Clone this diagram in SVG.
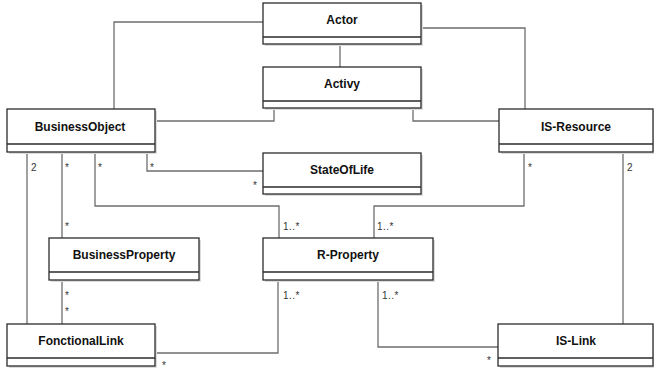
<svg xmlns="http://www.w3.org/2000/svg" width="654" height="370" viewBox="0 0 654 370">
<style>
.bg{fill:#ffffff}
.sh{fill:#dcdcdc}
.box{fill:#ffffff;stroke:#2b2b2b;stroke-width:1.3}
.div{stroke:#2b2b2b;stroke-width:1.3}
.name{font-family:"Liberation Sans",Arial,sans-serif;font-weight:bold;font-size:12px;fill:#111;text-anchor:middle}
.c{fill:none;stroke:#6e6e6e;stroke-width:1.3}
.m{font-family:"Liberation Sans",Arial,sans-serif;font-size:10px;letter-spacing:0.5px;fill:#333}
</style>
<rect class="bg" x="0" y="0" width="654" height="370"/>
<g id="connectors">
<polyline class="c" points="263,22 114,22 114,109"/>
<line class="c" x1="340" y1="44" x2="340" y2="67"/>
<polyline class="c" points="421,28 525,28 525,109"/>
<polyline class="c" points="274,108 274,121 155,121"/>
<polyline class="c" points="413,108 413,121 499,121"/>
<line class="c" x1="27" y1="152" x2="27" y2="324"/>
<line class="c" x1="62" y1="152" x2="62" y2="238"/>
<polyline class="c" points="95,152 95,206 279,206 279,238"/>
<polyline class="c" points="147,152 147,171 263,171"/>
<line class="c" x1="62" y1="280" x2="62" y2="324"/>
<polyline class="c" points="155,353 278,353 278,280"/>
<polyline class="c" points="524,152 524,206 374,206 374,238"/>
<line class="c" x1="623" y1="152" x2="623" y2="324"/>
<polyline class="c" points="378,280 378,347 498,347"/>
<text class="m" x="31" y="171">2</text>
<text class="m" x="65" y="171">*</text>
<text class="m" x="98" y="171">*</text>
<text class="m" x="150" y="171">*</text>
<text class="m" x="253" y="189">*</text>
<text class="m" x="65" y="230">*</text>
<text class="m" x="283" y="230">1..*</text>
<text class="m" x="377" y="230">1..*</text>
<text class="m" x="528" y="171">*</text>
<text class="m" x="627" y="171">2</text>
<text class="m" x="65" y="299">*</text>
<text class="m" x="65" y="315">*</text>
<text class="m" x="283" y="299">1..*</text>
<text class="m" x="382" y="299">1..*</text>
<text class="m" x="162" y="369">*</text>
<text class="m" x="487" y="364">*</text>
</g>
<g id="Actor">
<rect class="sh" x="265" y="5" width="158" height="41"/>
<rect class="box" x="263" y="3" width="158" height="41"/>
<line class="div" x1="263" y1="37" x2="421" y2="37"/>
<text class="name" x="342" y="24">Actor</text>
</g>
<g id="Activy">
<rect class="sh" x="265" y="69" width="158" height="41"/>
<rect class="box" x="263" y="67" width="158" height="41"/>
<line class="div" x1="263" y1="101" x2="421" y2="101"/>
<text class="name" x="342" y="88">Activy</text>
</g>
<g id="BusinessObject">
<rect class="sh" x="9" y="111" width="148" height="43"/>
<rect class="box" x="7" y="109" width="148" height="43"/>
<line class="div" x1="7" y1="144" x2="155" y2="144"/>
<text class="name" x="80" y="131">BusinessObject</text>
</g>
<g id="StateOfLife">
<rect class="sh" x="265" y="155" width="158" height="41"/>
<rect class="box" x="263" y="153" width="158" height="41"/>
<line class="div" x1="263" y1="187" x2="421" y2="187"/>
<text class="name" x="342" y="174">StateOfLife</text>
</g>
<g id="IS-Resource">
<rect class="sh" x="501" y="111" width="154" height="43"/>
<rect class="box" x="499" y="109" width="154" height="43"/>
<line class="div" x1="499" y1="144" x2="653" y2="144"/>
<text class="name" x="576" y="131">IS-Resource</text>
</g>
<g id="BusinessProperty">
<rect class="sh" x="51" y="240" width="150" height="42"/>
<rect class="box" x="49" y="238" width="150" height="42"/>
<line class="div" x1="49" y1="272" x2="199" y2="272"/>
<text class="name" x="124" y="259">BusinessProperty</text>
</g>
<g id="R-Property">
<rect class="sh" x="265" y="240" width="170" height="42"/>
<rect class="box" x="263" y="238" width="170" height="42"/>
<line class="div" x1="263" y1="272" x2="433" y2="272"/>
<text class="name" x="348" y="259">R-Property</text>
</g>
<g id="FonctionalLink">
<rect class="sh" x="9" y="326" width="148" height="42"/>
<rect class="box" x="7" y="324" width="148" height="42"/>
<line class="div" x1="7" y1="358" x2="155" y2="358"/>
<text class="name" x="81" y="345">FonctionalLink</text>
</g>
<g id="IS-Link">
<rect class="sh" x="500" y="326" width="155" height="42"/>
<rect class="box" x="498" y="324" width="155" height="42"/>
<line class="div" x1="498" y1="358" x2="653" y2="358"/>
<text class="name" x="576" y="345">IS-Link</text>
</g>
</svg>
